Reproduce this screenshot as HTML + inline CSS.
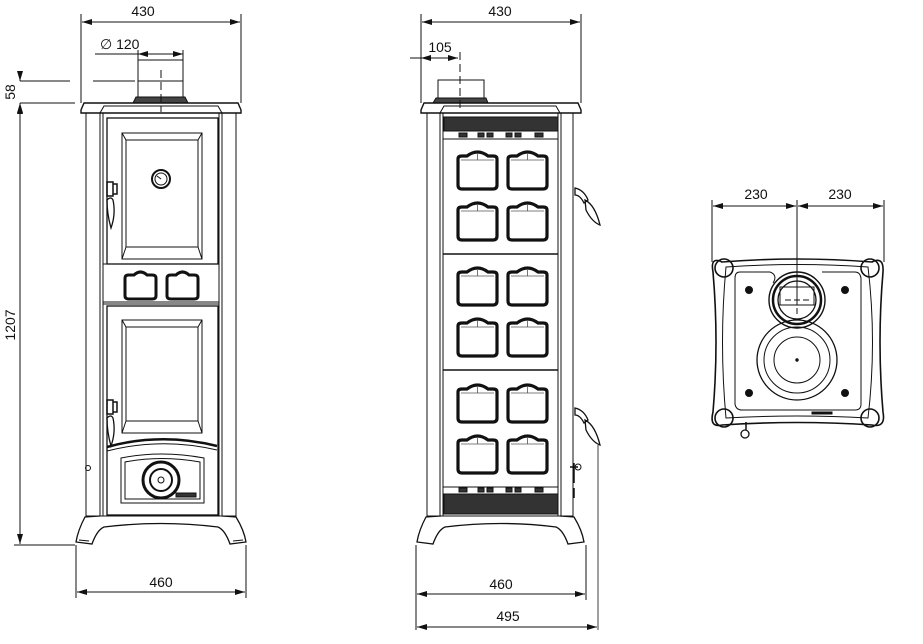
<!DOCTYPE html>
<html><head><meta charset="utf-8"><style>
html,body{margin:0;padding:0;background:#fff;width:923px;height:644px;overflow:hidden}
svg text{font-family:"Liberation Sans",Arial,sans-serif;font-size:14px;fill:#111}
</style></head><body>
<svg width="923" height="644" viewBox="0 0 923 644" xmlns="http://www.w3.org/2000/svg">
<defs>
<marker id="a" viewBox="0 0 10 6" refX="10" refY="3" markerWidth="10" markerHeight="6" orient="auto-start-reverse"><path d="M0,0L10,3L0,6z" fill="#111"/></marker>
<g id="tile"><path d="M0,9 Q0,6 4,6 L9,6 Q19.5,-2 30,6 L35,6 Q39,6 39,9 L39,35 Q39,39 35,39 L4,39 Q0,39 0,35 Z" fill="#fff" stroke="#111" stroke-width="3.2"/><path d="M3,10 L36,10 M19.5,3 L19.5,10" stroke="#555" stroke-width="0.8"/></g>
<g id="win"><path d="M0,8 Q0,5 4,5 L9,5 Q15.5,-1 22,5 L27,5 Q31,5 31,8 L31,26 Q31,29 27,29 L4,29 Q0,29 0,26 Z" fill="#fff" stroke="#111" stroke-width="3"/></g>
</defs>
<g stroke="#111" fill="none" stroke-width="1">
<line x1="81" y1="14" x2="81" y2="103"/><line x1="241" y1="14" x2="241" y2="103"/>
<line x1="82" y1="22" x2="240" y2="22" marker-start="url(#a)" marker-end="url(#a)"/>
<line x1="95" y1="54" x2="183" y2="54"/>
<line x1="138" y1="54" x2="150" y2="54" marker-start="url(#a)"/>
<line x1="171" y1="54" x2="183" y2="54" marker-end="url(#a)"/>
<line x1="138" y1="50" x2="138" y2="60"/><line x1="183" y1="50" x2="183" y2="60"/>
<line x1="20" y1="81" x2="70" y2="81"/><line x1="93" y1="81" x2="135" y2="81"/>
<line x1="20" y1="103" x2="75" y2="103"/>
<line x1="20" y1="71" x2="20" y2="81" marker-end="url(#a)"/>
<line x1="20" y1="113" x2="20" y2="103" marker-end="url(#a)"/>
<line x1="20" y1="104" x2="20" y2="544" marker-start="url(#a)" marker-end="url(#a)"/>
<line x1="14" y1="545" x2="75" y2="545"/>
<line x1="76" y1="545" x2="76" y2="598"/><line x1="246" y1="545" x2="246" y2="598"/>
<line x1="77" y1="592" x2="245" y2="592" marker-start="url(#a)" marker-end="url(#a)"/>
<rect x="138" y="60" width="45" height="37"/>
<line x1="138" y1="81" x2="183" y2="81"/>
<path d="M136,97 L185,97 L188,103 L133,103Z" fill="#444"/>
<line x1="161" y1="70" x2="161" y2="112" stroke-dasharray="8,4"/>
<path d="M81,110 L84,103 L238,103 L241,110 L241,113 L81,113 Z" stroke-width="1.4"/>
<path d="M100,113 L104,106 L218,106 L222,113"/>
<rect x="86" y="113" width="150" height="403"/>
<line x1="100" y1="113" x2="100" y2="516"/><line x1="222" y1="113" x2="222" y2="516"/>
<line x1="103" y1="113" x2="103" y2="516"/><line x1="219" y1="113" x2="219" y2="516"/>
<rect x="107" y="118" width="111" height="146" stroke-width="1.3"/>
<rect x="122" y="133" width="80" height="126"/>
<rect x="126" y="140" width="72" height="107"/>
<line x1="122" y1="133" x2="126" y2="140"/><line x1="202" y1="133" x2="198" y2="140"/>
<line x1="122" y1="259" x2="126" y2="247"/><line x1="202" y1="259" x2="198" y2="247"/>
<circle cx="161" cy="179" r="9" stroke-width="2"/><circle cx="161" cy="179" r="6"/>
<line x1="157" y1="176" x2="161" y2="179"/>
<path d="M107,182 h6 v14 h-6 z M113,184 h4 v10 h-4z" stroke-width="1.5"/>
<path d="M107,200 q4,-4 6,0 q3,14 -2,28 q-4,-14 -4,-28z" stroke-width="1.3"/>
<rect x="103" y="264" width="116" height="40"/>
<use href="#win" x="125" y="270"/><use href="#win" x="167" y="270"/>
<line x1="103" y1="302" x2="219" y2="302"/>
<rect x="107" y="306" width="111" height="209" stroke-width="1.3"/>
<rect x="122" y="320" width="80" height="113"/>
<rect x="126" y="327" width="72" height="94"/>
<line x1="122" y1="320" x2="126" y2="327"/><line x1="202" y1="320" x2="198" y2="327"/>
<line x1="122" y1="433" x2="126" y2="421"/><line x1="202" y1="433" x2="198" y2="421"/>
<path d="M107,447 Q161,432 217,446" stroke-width="2.5"/>
<path d="M107,451 Q161,437 217,450"/>
<path d="M121,458 Q161,450 204,458 L204,503 L121,503Z"/>
<path d="M125,462 Q161,455 200,462 L200,499 L125,499Z"/>
<circle cx="161" cy="480" r="18" stroke-width="3"/><circle cx="161" cy="480" r="11" stroke-width="2"/><circle cx="161" cy="480" r="3"/>
<rect x="176" y="493" width="20" height="4" fill="#333"/>
<path d="M107,400 h6 v14 h-6 z M113,402 h4 v10 h-4z" stroke-width="1.5"/>
<path d="M107,418 q4,-4 6,0 q3,14 -2,28 q-4,-14 -4,-28z" stroke-width="1.3"/>
<circle cx="88" cy="468" r="2.5"/>
<path d="M86,516 L236,516"/>
<path d="M100,516 L85,517 Q78,530 76,542 L92,544 Q97,530 104,527 Q161,520 218,527 Q225,530 230,544 L246,542 Q244,530 236,517 L222,516" stroke-width="1.3"/>
<path d="M79,540 L89,541 M233,541 L243,540"/>

<line x1="421" y1="14" x2="421" y2="103"/><line x1="581" y1="14" x2="581" y2="103"/>
<line x1="422" y1="22" x2="580" y2="22" marker-start="url(#a)" marker-end="url(#a)"/>
<line x1="410" y1="58" x2="458" y2="58"/>
<line x1="432" y1="58" x2="421" y2="58" marker-end="url(#a)"/>
<line x1="447" y1="58" x2="458" y2="58" marker-end="url(#a)"/>
<rect x="438" y="80" width="46" height="18"/>
<path d="M436,98 L486,98 L488,103 L433,103Z" fill="#444"/>
<line x1="460" y1="52" x2="460" y2="108" stroke-dasharray="8,4"/>
<path d="M421,110 L424,103 L578,103 L581,110 L581,113 L421,113 Z" stroke-width="1.4"/>
<path d="M440,113 L444,106 L556,106 L560,113"/>
<rect x="427" y="113" width="146" height="403"/>
<line x1="443" y1="113" x2="443" y2="516"/><line x1="558" y1="113" x2="558" y2="516"/>
<line x1="440" y1="113" x2="440" y2="516"/><line x1="561" y1="113" x2="561" y2="516"/>
<rect x="444" y="117" width="114" height="14" fill="#333"/>
<path d="M459,133h8v4h-8zM478,133h6v4h-6zM487,133h6v4h-6zM506,133h6v4h-6zM515,133h6v4h-6zM535,133h8v4h-8z" fill="#333"/>
<line x1="443" y1="139" x2="558" y2="139"/>
<line x1="443" y1="254" x2="558" y2="254" stroke-width="1.5"/>
<line x1="443" y1="370" x2="558" y2="370" stroke-width="1.5"/>
<line x1="443" y1="487" x2="558" y2="487"/>
<path d="M459,488h8v4h-8zM478,488h6v4h-6zM487,488h6v4h-6zM506,488h6v4h-6zM515,488h6v4h-6zM535,488h8v4h-8z" fill="#333"/>
<rect x="444" y="494" width="114" height="20" fill="#333"/>
<use href="#tile" x="458" y="150"/><use href="#tile" x="508" y="150"/>
<use href="#tile" x="458" y="201"/><use href="#tile" x="508" y="201"/>
<use href="#tile" x="458" y="266"/><use href="#tile" x="508" y="266"/>
<use href="#tile" x="458" y="317"/><use href="#tile" x="508" y="317"/>
<use href="#tile" x="458" y="383"/><use href="#tile" x="508" y="383"/>
<use href="#tile" x="458" y="434"/><use href="#tile" x="508" y="434"/>
<path d="M575,188 Q584,190 588,200 L584,203 Q580,195 575,195Z" stroke-width="1.3"/>
<path d="M585,200 Q595,205 600,225 Q592,222 586,210Z" stroke-width="1.3"/>
<path d="M575,408 Q584,410 588,420 L584,423 Q580,415 575,415Z" stroke-width="1.3"/>
<path d="M585,420 Q595,425 600,445 Q592,442 586,430Z" stroke-width="1.3"/>
<path d="M570,467 h8 M574,463 v20 M574,488 v10" stroke-width="1.5"/>
<circle cx="578" cy="467" r="3"/>
<path d="M441,516 L426,517 Q419,530 417,542 L433,544 Q438,530 445,527 Q501,520 556,527 Q563,530 568,544 L584,542 Q582,530 574,517 L560,516" stroke-width="1.3"/>
<line x1="416" y1="545" x2="416" y2="630"/><line x1="586" y1="545" x2="586" y2="600"/>
<line x1="598" y1="445" x2="598" y2="630" stroke-width="0.8"/>
<line x1="417" y1="594" x2="585" y2="594" marker-start="url(#a)" marker-end="url(#a)"/>
<line x1="417" y1="627" x2="597" y2="627" marker-start="url(#a)" marker-end="url(#a)"/>

<line x1="712" y1="200" x2="712" y2="262"/><line x1="884" y1="200" x2="884" y2="262"/>
<line x1="713" y1="206" x2="796" y2="206" marker-start="url(#a)" marker-end="url(#a)"/>
<line x1="798" y1="206" x2="883" y2="206" marker-start="url(#a)" marker-end="url(#a)"/>
<line x1="797" y1="200" x2="797" y2="300"/>
<path d="M722,262 Q797,256 872,262 Q884,256 883,272 Q877,342 883,412 Q886,428 872,425 Q797,420 722,425 Q709,428 713,412 Q719,342 713,272 Q710,256 722,262Z" stroke-width="1.6"/>
<path d="M726,267 Q797,262 868,267 Q877,342 868,418 Q797,414 726,418 Q719,342 726,267Z"/>
<circle cx="724" cy="268" r="9" stroke-width="1.6"/><circle cx="870" cy="268" r="9" stroke-width="1.6"/>
<circle cx="724" cy="418" r="9" stroke-width="1.6"/><circle cx="870" cy="418" r="9" stroke-width="1.6"/>
<path d="M740,272 L770,272 Q778,275 773,283 M822,272 L855,272 Q860,272 861,278 L861,404 Q861,410 855,410 L742,410 Q736,410 735,404 L735,278 Q735,272 740,272" />
<circle cx="797" cy="300" r="28" stroke-width="1.4"/>
<circle cx="797" cy="300" r="24" stroke-width="2.5"/>
<circle cx="797" cy="300" r="19" stroke-width="1.3"/>
<rect x="780" y="287" width="34" height="18"/>
<line x1="797" y1="290" x2="797" y2="315" stroke-dasharray="6,3"/>
<line x1="785" y1="300" x2="809" y2="300" stroke-dasharray="6,3"/>
<circle cx="797" cy="360" r="40" stroke-width="1.3"/>
<circle cx="797" cy="360" r="33"/>
<circle cx="797" cy="360" r="23"/>
<circle cx="797" cy="360" r="1.2" fill="#111"/>
<circle cx="749" cy="290" r="3.5" fill="#111"/><circle cx="845" cy="290" r="3.5" fill="#111"/>
<circle cx="749" cy="393" r="3.5" fill="#111"/><circle cx="845" cy="393" r="3.5" fill="#111"/>
<rect x="812" y="412" width="20" height="2" fill="#111"/>
<line x1="746" y1="422" x2="746" y2="430" stroke-width="1.5"/>
<circle cx="745" cy="434" r="4" stroke-width="1.3"/>
</g>
<g>
<text x="143" y="16" text-anchor="middle">430</text>
<text x="100" y="49">∅ 120</text>
<text transform="translate(15,92) rotate(-90)" text-anchor="middle">58</text>
<text transform="translate(15,325) rotate(-90)" text-anchor="middle">1207</text>
<text x="161" y="587" text-anchor="middle">460</text>
<text x="500" y="16" text-anchor="middle">430</text>
<text x="440" y="52" text-anchor="middle">105</text>
<text x="501" y="589" text-anchor="middle">460</text>
<text x="508" y="621" text-anchor="middle">495</text>
<text x="756" y="199" text-anchor="middle">230</text>
<text x="840" y="199" text-anchor="middle">230</text>
</g>
</svg>
</body></html>
